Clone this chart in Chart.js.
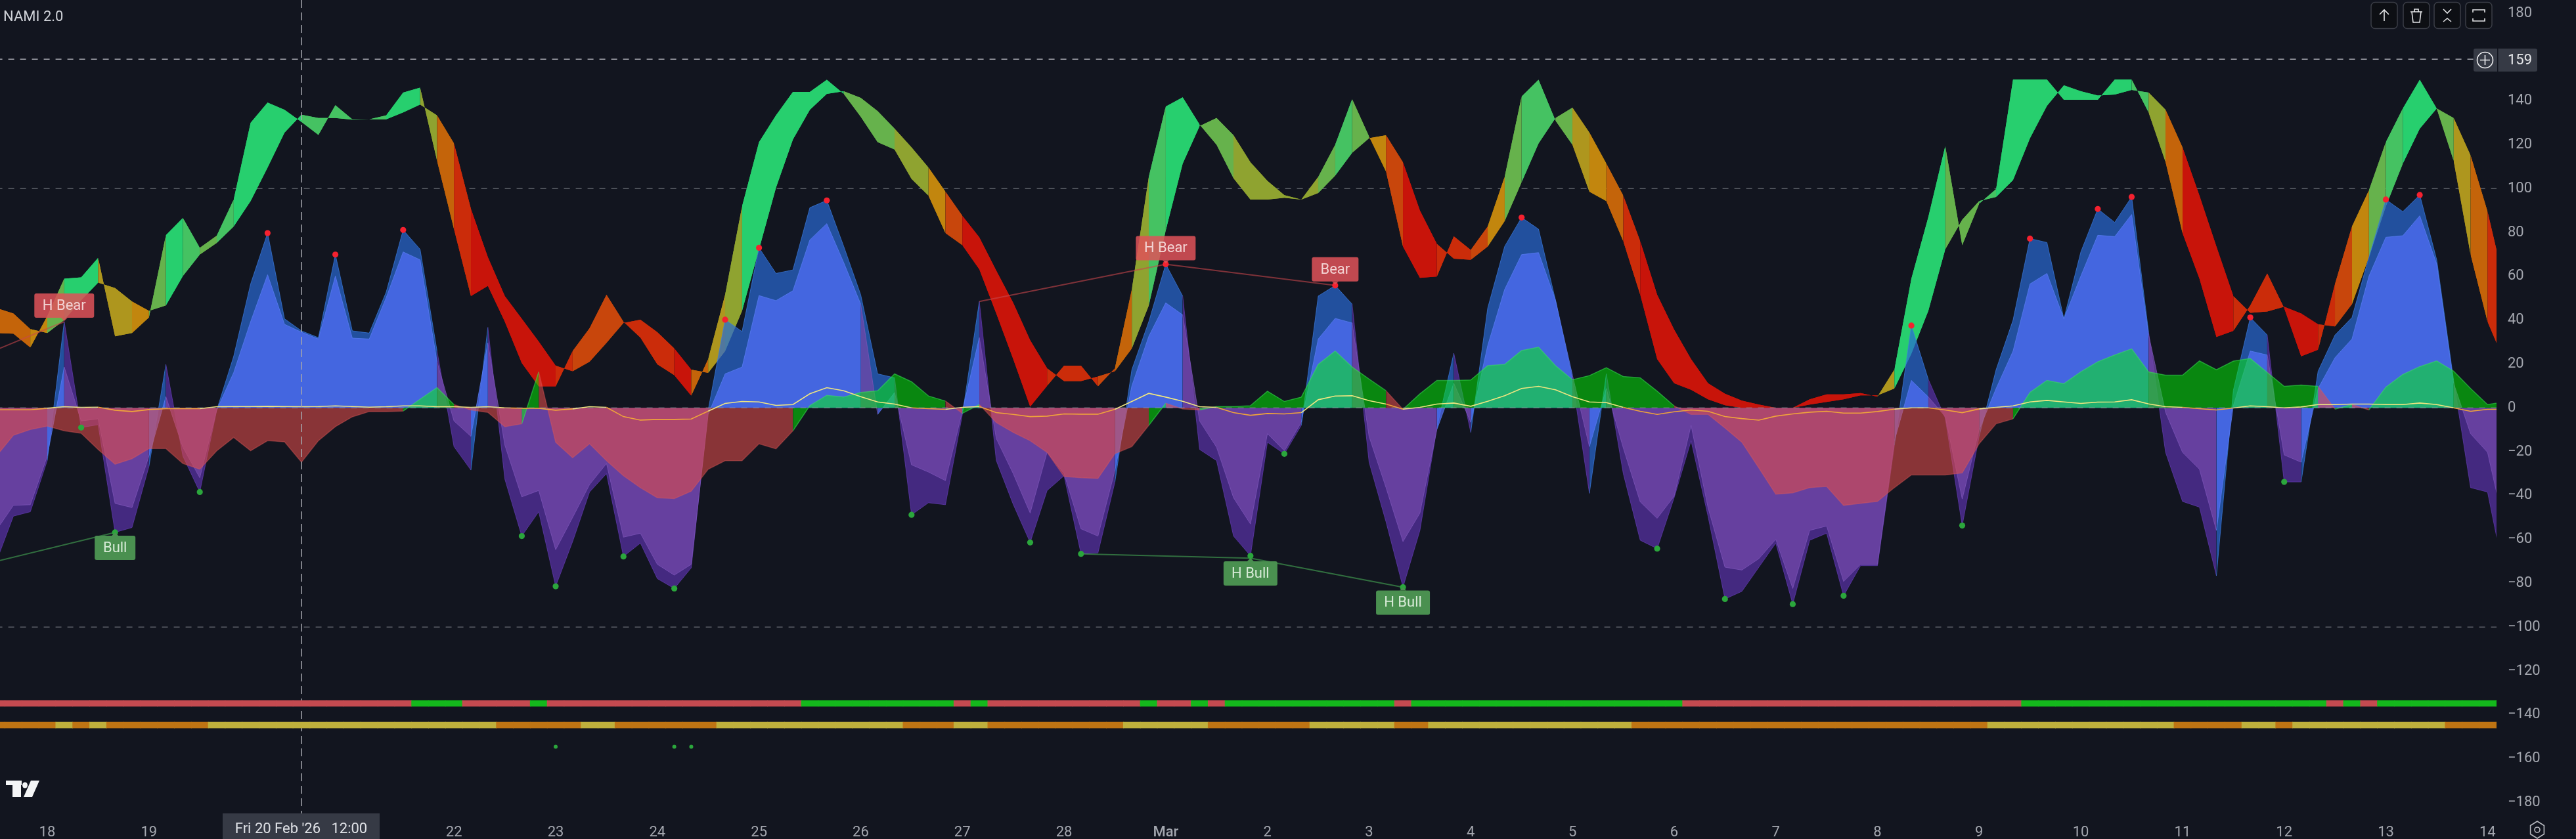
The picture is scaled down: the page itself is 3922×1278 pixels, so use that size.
<!DOCTYPE html>
<html><head><meta charset="utf-8">
<style>html,body{margin:0;padding:0;background:#12151f;overflow:hidden}canvas{display:block}</style>
<script src="https://cdn.jsdelivr.net/npm/chart.js@4"></script>
</head><body>
<canvas id="c" width="3922" height="1278"></canvas>
<script>
// Bar numbers count 4-hour bars from 18 Feb 00:00; the first value of each list is bar -3.
const firstBar = -3;
const ribbonFast = [
34.1,33.8,27.5,41.8,58.9,59.5,68.4,32.6,34.1,41.2,
78.7,86.6,73,78.5,95,130,139.2,135.9,130.4,124.5,
138,131.6,131.6,133.4,143.8,146,112.7,81.5,51,55.6,
39.3,20.4,9.8,9.8,25.9,36.3,51.6,39.3,32,19.8,
14.9,5.5,22.2,51.6,91.9,121.2,133.4,144.1,144.1,149.6,
143.2,132.8,121.2,117.8,104.4,96.8,79.7,74.2,63.2,43,
22.2,0.5,10,19.2,19.2,9.8,18,54,105.3,137.4,
141.6,129.2,120,104.7,95,95,95.8,95,105.3,120,
140.8,123.7,107.8,73.6,59.3,59.9,78.2,72,82.7,105.3,
142,149.6,131,120,98.6,94.3,76,51.6,22.2,11.2,
8.2,3.9,1.2,0,0,0,0,3.9,6.1,6.1,
6.7,5.1,17.4,58.9,87,119.4,74.2,93.1,99.8,149.7,
149.7,149.7,140.5,140.5,140.5,149.7,149.7,134.7,112.1,79.7,
58.9,32.3,35.1,46.7,61.3,45.5,23.5,26.5,56.5,82.7,
99.2,121.2,136.5,149.6,136.5,112.7,69.9,39.3,21];
const ribbonSlow = [
45.5,43,35.9,34.1,40,49.1,57.1,54.6,48.5,44.2,
46.7,60.1,69.9,75.2,82.7,94.3,109.6,125.5,133.7,132.2,
132.2,131.4,131.6,131.6,134.7,138.3,133.4,120.6,90.7,68.7,
51,40.6,30.2,19.2,16.7,21,29.6,38.7,40.2,34.5,
27.1,17.4,15.9,25.9,44.2,72.3,100.4,122.4,135.9,143.2,
144.4,141.4,135.3,127.3,118.8,109.6,98.6,87.6,77.8,62.6,
47.9,30.8,18,12.2,12.2,14.3,16.7,27.1,46.7,80.9,
111.4,128.5,132.2,124.3,112,103.5,97,95,98,105.9,
116.3,123,124.3,112,90,74.8,68,67.5,73.6,85.2,
102.9,120.6,132.2,136.9,125.5,111.4,96.8,76,51.6,35.7,
22.2,11.2,6.4,3.3,1.5,0,0,1.5,2.7,3.9,
5.7,5.7,8.8,24.7,44.2,72.3,85.8,94.3,96.2,103.9,
123,137.7,147.1,144.4,142.4,142.9,145,143.8,135.9,118.8,
96.8,73.6,51,43.3,43.9,46.1,43,38.1,37.1,47.3,
68.7,91.9,111.4,127.3,136.5,132.2,115.1,89.5,56.5];
const ribbonState = [
6,6,5,2,0,0,4,4,5,2,
0,1,2,1,0,0,0,0,1,1,
1,1,1,0,0,3,6,8,9,9,
9,9,9,8,7,7,7,8,8,8,
9,6,4,3,0,0,0,0,0,0,
2,2,2,3,3,5,7,9,9,9,
9,9,8,8,8,7,6,3,1,0,
0,2,2,3,3,3,3,3,2,1,
2,5,7,9,9,8,8,7,5,2,
1,1,2,4,5,6,8,9,9,9,
9,9,9,9,9,9,9,9,9,9,
9,4,0,0,0,2,2,1,0,0,
0,0,0,0,0,0,1,3,6,9,
9,9,8,8,8,9,9,8,7,5,
2,1,0,0,2,4,6,8,8];
const outerFlow = [
-70,-49.4,-47.4,-24,39.3,-9,-7.7,-56.8,-54.6,-26.7,
19.8,-22,-38.4,-1,23.5,56.5,79.7,40.6,35.1,32,
69.9,35.1,34.1,52.8,81.1,72.3,25.9,-17.7,-28.4,36.7,
-32.5,-58.5,-47.4,-81.4,-61,-38.4,-30,-67.8,-61.7,-77.9,
-82.4,-73,-1,40.2,34.8,73,61.3,62.9,91.3,94.6,
73.6,51.6,15.5,13.7,-48.8,-43.3,-44.2,-3,48.5,-24,
-44,-61.4,-37.7,-31,-66.6,-66.2,-33.9,17.4,39.3,65.5,
51,-19,-24.1,-58.5,-67.5,-15.7,-21,-8,51,55.8,
47.3,-24.8,-52,-81.8,-55.9,-9.2,24.9,-11.2,45.5,73.6,
86.8,81.5,49.1,12.5,-39,15.5,-30,-60.4,-64.2,-41,
-15,-49.4,-87.2,-83.7,-72.7,-61.7,-89.5,-60.4,-57.2,-85.7,
-72,-72,-17,37.5,13,-4.7,-53.7,-13,17.4,40,
77.2,75.4,40.6,71.1,90.7,84.6,96.2,34.5,-20.3,-42.7,
-45.3,-76.6,8,41.2,33.2,-33.8,-33.8,16.7,33.2,41.2,
68.7,95,89.5,97.1,67.5,12.5,-36.4,-38.4,-76.6];
const innerFlow = [
-55.8,-44.5,-44.2,-22,18.6,-6,-5,-43.6,-45.5,-22,
5.1,-18,-31.9,-1,16.1,39.3,60.7,38.1,34.5,31.4,
60.1,31.8,31.4,50.3,71.1,67.5,21,-6,-13,29.6,
-17,-40.6,-37.7,-64.7,-50,-35,-25.4,-59,-57.2,-71.4,
-76.3,-71.4,-3,15.5,18.6,51.2,48.9,53.4,76.6,84,
66.2,47.3,-3,7,-26,-29.3,-33.2,-1.5,32,-14,
-30,-48,-20.2,-30,-55.2,-58.5,-28.7,10,32.6,47.9,
42.4,-6,-18,-41,-53,-11.8,-19.6,-6.6,31.4,40.8,
38.7,-13.1,-36.4,-61,-48,-9.9,11.2,-6.6,28.4,54,
69.9,70.8,49.1,14.9,-17.7,8.8,-18.3,-42.9,-50.4,-40.3,
-8,-45.5,-72.7,-74,-68.8,-60,-82.4,-55.9,-53.9,-79.2,
-71.4,-71.4,-15,12.5,5,-4,-41.6,-10,8.8,25.9,
56.5,61.3,40.6,60.1,78.7,78.1,88.2,33.2,-2,-20.3,
-28,-55.9,1,25.9,24.1,-21.5,-24.8,8.8,22.9,31.4,
60,77.8,78.5,87.6,65.6,11.2,-11.8,-20.3,-54.6];
const signalFlow = [
-22,-12.5,-9.9,-8.3,-10.5,-11.6,-19,-25.7,-23.2,-18.6,
-18.6,-25.4,-28,-19.6,-13.5,-19.6,-15,-15.5,-24.8,-15,
-8.6,-4.1,-1.7,-1.7,-1.5,3.9,9.2,1.5,-1,-2.1,
-8.6,-7.3,16.4,-15.7,-22.8,-16.4,-24.1,-31,-36.4,-41,
-41.4,-38,-28,-24.1,-24.1,-16.4,-18.7,-10.5,1,5.7,
4.9,7,7.8,15.5,11.9,5.4,3.1,-2.5,1.5,-6.7,
-11.2,-15,-20.3,-31.3,-31.9,-32.2,-20.9,-17.7,-8,2.1,
-0.5,-1,0.6,0.6,1,7.6,2.9,4.9,19.8,25.9,
18.6,13.1,7.8,-0.7,6.4,12.5,12.5,12.7,19.2,19.8,
26.1,27.7,19.2,12.8,14.7,18.3,14.3,13.7,7.6,0.9,
-3,-3,-9.2,-15.7,-27.4,-39.4,-38.8,-36.4,-35.9,-44.5,
-43.6,-42.7,-36.4,-30.6,-30.6,-30.6,-29.7,-16.4,-7.3,-5,
7,12.5,11,16.4,21,24.1,26.9,16.4,14.9,14.9,
21.4,17.4,21.3,22.5,16.1,9.8,10.4,9.8,-0.6,1.5,
-1,9.4,15.2,18.8,21.4,16.7,8.8,1.5,2.7];
const thinLine = [
-.9,-.9,-.9,-.2,.5,.2,.3,-1.1,-1.7,-.8,
-.4,-.4,-.4,.5,.6,.6,.7,.6,.5,.6,
.9,.6,.3,.5,.9,.9,.5,.5,.2,.5,
0,-.2,-.2,-1.1,-.5,.5,.2,-4,-5.6,-5.3,
-5.3,-5.1,-1.5,2,2.9,2.7,1.1,1.5,6.4,9.2,
7.8,5.1,2.7,1.7,0,-.4,-.7,.2,.6,-2.2,
-3,-4,-3.8,-2.8,-2.9,-2.9,-.7,2.9,6.6,4.9,
3,.5,.2,-2.2,-3.4,-2.6,-2.8,-2.2,3.7,5.4,
5.5,3.3,1.7,-.6,.2,1.7,2.2,.7,3,5.5,
8.8,9.8,8.2,5.1,2.7,2.4,.2,-1.6,-3,-1.8,
-1,-1.6,-4,-4.9,-5.6,-3.8,-2.8,-2,-1.6,-2.4,
-2.4,-1.7,-.6,0,0,-1,-2.2,-.5,.2,.9,
2.7,3.4,2.7,2,2.6,2.7,3.7,1.8,.5,.2,
-.4,-1,-.1,.9,.5,0,.4,1.5,1.5,1.7,
1.7,1.5,1.5,2.2,1.5,0,-1.6,-.7,-.7];
const trendRow = [
0,0,0,0,0,0,0,0,0,0,
0,0,0,0,0,0,0,0,0,0,
0,0,0,0,0,1,1,1,0,0,
0,0,1,0,0,0,0,0,0,0,
0,0,0,0,0,0,0,0,1,1,
1,1,1,1,1,1,1,0,1,0,
0,0,0,0,0,0,0,0,1,0,
0,1,0,1,1,1,1,1,1,1,
1,1,1,0,1,1,1,1,1,1,
1,1,1,1,1,1,1,1,1,1,
0,0,0,0,0,0,0,0,0,0,
0,0,0,0,0,0,0,0,0,0,
1,1,1,1,1,1,1,1,1,1,
1,1,1,1,1,1,1,1,0,1,
0,1,1,1,1,1,1,1,1];
const momentumRow = [
0,0,0,0,1,0,1,0,0,0,
0,0,0,1,1,1,1,1,1,1,
1,1,1,1,1,1,1,1,1,1,
0,0,0,0,0,1,1,0,0,0,
0,0,0,1,1,1,1,1,1,1,
1,1,1,1,0,0,0,1,1,0,
0,0,0,0,0,0,0,1,1,1,
1,1,0,0,0,0,0,0,1,1,
1,1,1,0,0,1,1,1,1,1,
1,1,1,1,1,1,1,0,0,0,
0,0,0,0,0,0,0,0,0,0,
0,0,0,0,0,0,0,0,1,1,
1,1,1,1,1,1,1,1,1,0,
0,0,0,1,1,0,1,1,1,1,
1,1,1,1,1,0,0,0,0];
const highPivotBars = [13,17,21,40,42,46,66,76,87,110,117,121,123,130,138,140];
const lowPivotBars = [2,4,9,28,30,34,37,51,58,61,71,73,80,95,99,103,106,113,132];
const extremeDotBars = [30,37,38];
const bearLines = [[-3,26.5,1],[55,48.5,66],[66,65.5,76]];
const bullLines = [[-3,-70,4],[61,-66.6,71],[71,-68.6,80]];
const signalTags = [[1,'H Bear'],[66,'H Bear'],[76,'Bear'],[4,'Bull'],[71,'H Bull'],[80,'H Bull']];
const dayBars = [0,6,24,30,36,42,48,54,60,66,72,78,84,90,96,102,108,114,120,126,132,138,144];
const dayLabels = ['18','19','22','23','24','25','26','27','28','Mar','2','3','4','5','6','7','8','9','10','11','12','13','14'];
const valueTicks = [180,140,120,100,80,60,40,20,0,-20,-40,-60,-80,-100,-120,-140,-160,-180];

const ribbonPalette = ['#27cf6e','#45c262','#66b24c','#8fa330','#ae961e','#c2860e','#c4640a','#c8460c','#cb2c0a','#c8140a'];
const barOf = k => k + firstBar;
const indexOf = b => b - firstBar;
const toPoints = arr => arr.map((y, k) => ({x: barOf(k), y}));
const bg = '#12151f';
const fontFamily = 'Roboto, sans-serif';

const line = (data, extra) => Object.assign({type: 'line', data: toPoints(data), pointRadius: 0, tension: 0, borderWidth: 0, fill: false}, extra);
const rule = (pts, color, dash, order, width) => ({type: 'line', data: pts, pointRadius: 0, borderWidth: width || 1.5, borderColor: color, borderDash: dash, fill: false, order});
const endSign = (arr, ctx) => arr[ctx.p1DataIndex] >= 0;
const ribbonFill = {order: 20, fill: 1, backgroundColor: ribbonPalette[0],
  segment: {backgroundColor: c => ribbonPalette[ribbonState[c.p0DataIndex]]}};

const datasets = [
  line(ribbonFast, Object.assign({label: 'Ribbon fast'}, ribbonFill)),
  line(ribbonSlow, {label: 'Ribbon slow', order: 20}),
  line(ribbonFast, Object.assign({label: 'Ribbon fast coat'}, ribbonFill)),
  line(outerFlow, {label: 'Outer flow', order: 18, fill: 'origin', borderWidth: 1, backgroundColor: 'rgba(41,106,212,.7)',
    segment: {backgroundColor: c => endSign(outerFlow, c) ? 'rgba(41,106,212,.7)' : 'rgba(90,50,170,.7)',
              borderColor: c => endSign(outerFlow, c) ? 'rgba(60,125,225,.7)' : 'rgba(100,60,180,.7)'}}),
  line(innerFlow, {label: 'Inner flow', order: 17, fill: 'origin', borderWidth: 1, backgroundColor: 'rgba(80,110,245,.75)',
    segment: {backgroundColor: c => endSign(innerFlow, c) ? 'rgba(80,110,245,.75)' : 'rgba(114,72,170,.75)',
              borderColor: c => endSign(innerFlow, c) ? 'rgba(90,125,245,.75)' : 'rgba(125,85,185,.75)'}}),
  line(signalFlow, {label: 'Signal flow', order: 16, fill: 'origin', borderWidth: 1.5, backgroundColor: 'rgba(0,250,2,.5)',
    segment: {backgroundColor: c => endSign(signalFlow, c) ? 'rgba(0,250,2,.5)' : 'rgba(224,75,72,.58)',
              borderColor: c => endSign(signalFlow, c) ? 'rgba(60,230,90,.5)' : 'rgba(224,90,90,.4)'}}),
  line(thinLine, {label: 'Thin line', order: 15, borderWidth: 1.6, borderColor: '#f0e680',
    segment: {borderColor: c => endSign(thinLine, c) ? '#f0e680' : '#f0a43a'}}),
  rule([{x: firstBar, y: 0}, {x: 145, y: 0}], 'rgba(150,152,160,.55)', [9, 9], 14),
  rule([{x: firstBar, y: 159}, {x: 145, y: 159}], '#a4a6ad', [9, 9], 25),
  rule([{x: firstBar, y: 100}, {x: 145, y: 100}], '#5b5e67', [9, 9], 25),
  rule([{x: firstBar, y: -100}, {x: 145, y: -100}], '#5b5e67', [9, 9], 25),
  rule([{x: 15, y: 186}, {x: 15, y: -186}], '#a4a6ad', [12, 7], 13),
];
bearLines.forEach(([a, v, b]) => datasets.push(rule([{x: a, y: v}, {x: b, y: outerFlow[indexOf(b)]}], 'rgba(200,70,75,.6)', [], 12, 2)));
bullLines.forEach(([a, v, b]) => datasets.push(rule([{x: a, y: v}, {x: b, y: b === 71 ? -68.6 : outerFlow[indexOf(b)]}], 'rgba(70,170,85,.6)', [], 12, 2)));
datasets.push(
  {type: 'line', label: 'High pivots', data: highPivotBars.map(b => ({x: b, y: outerFlow[indexOf(b)]})), showLine: false, pointRadius: 4.6, pointBorderWidth: 0, pointBackgroundColor: '#f5212f', order: 5},
  {type: 'line', label: 'Low pivots', data: lowPivotBars.map(b => ({x: b, y: outerFlow[indexOf(b)]})), showLine: false, pointRadius: 4.6, pointBorderWidth: 0, pointBackgroundColor: '#2ba63c', order: 5},
  {type: 'line', label: 'Extreme dots', data: extremeDotBars.map(b => ({x: b, y: -154.6})), showLine: false, pointRadius: 3, pointBorderWidth: 0, pointBackgroundColor: '#2ba63c', order: 5},
  {type: 'bar', label: 'Trend row', data: trendRow.map((_, k) => ({x: barOf(k), y: [-136.15, -133.45]})), grouped: false, barThickness: 26, order: 6,
   backgroundColor: trendRow.map(s => s ? '#14b81c' : '#c44a50')},
  {type: 'bar', label: 'Momentum row', data: momentumRow.map((_, k) => ({x: barOf(k), y: [-146.05, -143.35]})), grouped: false, barThickness: 26, order: 6,
   backgroundColor: momentumRow.map(s => s ? '#bfb03c' : '#bf7413')}
);

function rr(ctx, x, y, w, h, r) { ctx.beginPath(); ctx.roundRect(x, y, w, h, r); }

const chrome = {
  id: 'chrome',
  afterDraw(chart) {
    const ctx = chart.ctx, sx = chart.scales.x, sy = chart.scales.y;
    ctx.save();
    // signal tags
    ctx.textAlign = 'center'; ctx.textBaseline = 'middle'; ctx.font = '22px ' + fontFamily;
    signalTags.forEach(([b, text]) => {
      const bear = text.includes('Bear');
      const px = sx.getPixelForValue(b), py = sy.getPixelForValue(outerFlow[indexOf(b)] + (b === 71 ? -1 : 0));
      const w = text.length > 4 ? (bear ? 91 : 82) : (bear ? 71 : 62), h = 37;
      const top = bear ? py - 6 - h : py + 5;
      ctx.fillStyle = bear ? 'rgba(222,82,88,.86)' : '#4a9050';
      ctx.beginPath();
      ctx.moveTo(px - 5, bear ? top + h : top); ctx.lineTo(px, bear ? top + h + 5 : top - 5); ctx.lineTo(px + 5, bear ? top + h : top); ctx.fill();
      rr(ctx, px - w / 2, top, w, h, 3); ctx.fill();
      ctx.fillStyle = bear ? '#f3d3d3' : '#d6ead6';
      ctx.fillText(text, px, top + h / 2 + 1);
    });
    // title
    ctx.textAlign = 'left'; ctx.fillStyle = '#cfd2d8'; ctx.font = '22px ' + fontFamily;
    ctx.fillText('NAMI 2.0', 5, 26);
    // crosshair time label
    ctx.fillStyle = '#363a45'; ctx.fillRect(339, 1239, 239, 39);
    ctx.fillStyle = '#dfe1e6'; ctx.textAlign = 'center';
    ctx.fillText("Fri 20 Feb '26   12:00", 458.5, 1263);
    // crosshair value label
    ctx.fillStyle = '#363a45'; rr(ctx, 3766, 74, 97, 35, 3); ctx.fill();
    ctx.fillStyle = bg; ctx.fillRect(3802, 74, 1.5, 35);
    ctx.fillStyle = '#e6e7ea'; ctx.textAlign = 'left'; ctx.fillText('159', 3818, 92);
    ctx.strokeStyle = '#f0f1f3'; ctx.lineWidth = 1.6;
    ctx.beginPath(); ctx.arc(3783.5, 91.5, 12, 0, 7); ctx.moveTo(3776, 91.5); ctx.lineTo(3791, 91.5); ctx.moveTo(3783.5, 84); ctx.lineTo(3783.5, 99); ctx.stroke();
    // toolbar
    [3610, 3659, 3706, 3754].forEach((x, k) => {
      ctx.fillStyle = '#0d0f14'; ctx.strokeStyle = '#3b3e47'; ctx.lineWidth = 1.5;
      rr(ctx, x, 3.5, 40, 40, 6); ctx.fill(); ctx.stroke();
      ctx.strokeStyle = '#e4e5e8'; ctx.lineWidth = 1.6; ctx.beginPath();
      const c = x + 20;
      if (k === 0) { ctx.moveTo(c, 32); ctx.lineTo(c, 15); ctx.moveTo(c - 7, 22); ctx.lineTo(c, 15); ctx.lineTo(c + 7, 22); }
      if (k === 1) { ctx.moveTo(c - 9, 18); ctx.lineTo(c + 9, 18); ctx.moveTo(c - 7, 18); ctx.lineTo(c - 5, 34); ctx.lineTo(c + 5, 34); ctx.lineTo(c + 7, 18); ctx.moveTo(c - 3, 18); ctx.lineTo(c - 3, 14); ctx.lineTo(c + 3, 14); ctx.lineTo(c + 3, 18); }
      if (k === 2) { ctx.moveTo(c - 6, 14); ctx.lineTo(c, 20); ctx.lineTo(c + 6, 14); ctx.moveTo(c - 6, 33); ctx.lineTo(c, 28); ctx.lineTo(c + 6, 33); }
      if (k === 3) { ctx.moveTo(c - 9, 19); ctx.lineTo(c - 9, 15); ctx.lineTo(c + 9, 15); ctx.lineTo(c + 9, 19); ctx.moveTo(c - 9, 28); ctx.lineTo(c - 9, 32); ctx.lineTo(c + 9, 32); ctx.lineTo(c + 9, 28); }
      ctx.stroke();
    });
    // logo
    ctx.fillStyle = '#f4f5f6';
    ctx.fillRect(9, 1189, 24, 7); ctx.fillRect(19, 1196, 13, 18);
    ctx.beginPath(); ctx.ellipse(38, 1196, 4, 4.5, 0, 0, 7); ctx.fill();
    ctx.beginPath(); ctx.moveTo(47, 1189); ctx.lineTo(60, 1189); ctx.lineTo(49, 1214); ctx.lineTo(36, 1214); ctx.closePath(); ctx.fill();
    // settings hexagon
    ctx.strokeStyle = '#b8bac0'; ctx.lineWidth = 1.6; ctx.beginPath();
    for (let a = 0; a < 6; a++) { const t = Math.PI / 2 + a * Math.PI / 3, X = 3863 + 12 * Math.cos(t), Y = 1264 + 13 * Math.sin(t); a ? ctx.lineTo(X, Y) : ctx.moveTo(X, Y); }
    ctx.closePath(); ctx.stroke();
    ctx.beginPath(); ctx.arc(3863, 1264, 4, 0, 7); ctx.stroke();
    ctx.restore();
  }
};

new Chart(document.getElementById('c'), {
  type: 'line',
  data: {datasets},
  plugins: [chrome, {id: 'bg', beforeDraw(ch) { ch.ctx.fillStyle = bg; ch.ctx.fillRect(0, 0, ch.width, ch.height); }}],
  options: {
    responsive: false, animation: false, devicePixelRatio: 1,
    layout: {padding: 0, autoPadding: false},
    plugins: {legend: {display: false}, tooltip: {enabled: false}, title: {display: false}},
    scales: {
      x: {type: 'linear', offset: false, min: -2.79, max: 144.53, grid: {display: false, offset: false}, border: {display: false},
        afterBuildTicks: s => { s.ticks = dayBars.map(v => ({value: v})); },
        afterFit: s => { s.height = 38; s.paddingLeft = 0; s.paddingRight = 0; },
        ticks: {autoSkip: false, maxRotation: 0, minRotation: 0, padding: 7, color: '#a4a7af',
          font: c => ({family: fontFamily, size: 22, weight: c.tick && c.tick.value === 66 ? '500' : '400'}),
          callback: v => dayLabels[dayBars.indexOf(v)]}},
      y: {type: 'linear', position: 'right', min: -185.27, max: 186, grid: {display: false, drawTicks: false}, border: {display: false},
        afterBuildTicks: s => { s.ticks = valueTicks.map(v => ({value: v})); },
        afterFit: s => { s.width = 121; s.paddingTop = 0; s.paddingBottom = 0; },
        ticks: {padding: 17, crossAlign: 'near', color: '#a4a7af', font: {family: fontFamily, size: 22},
          callback: v => String(v).replace('-', '\u2212')}}
    }
  }
});
</script>
</body></html>
